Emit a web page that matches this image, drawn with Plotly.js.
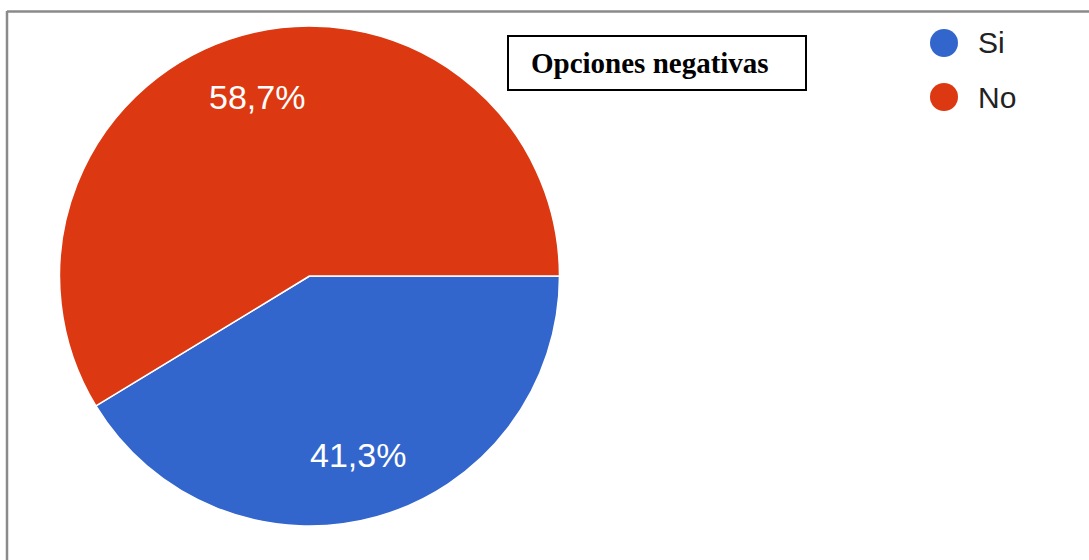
<!DOCTYPE html>
<html>
<head>
<meta charset="utf-8">
<script src="https://cdn.plot.ly/plotly-3.0.1.min.js"></script>
<style>
html,body{margin:0;padding:0;background:#fff;}
#chart{width:1089px;height:560px;}
</style>
</head>
<body>
<div id="chart"></div>
<script>
const categories = ["Si", "No"];
const values = [41.3, 58.7];
const colors = ["#3366CC", "#DC3912"];
const chartTitle = "Opciones negativas";

const W = 1089, H = 560;
const px = x => x / W;
const py = y => 1 - y / H;

const cx = 309.5, cy = 276, R = 250;
const startAngle = 90; // degrees clockwise from 12 o'clock
const labelRadius = 0.745;

const pie = {
  type: "pie",
  labels: categories,
  values: values,
  marker: { colors: colors, line: { color: "#ffffff", width: 1.5 } },
  sort: false,
  direction: "clockwise",
  rotation: startAngle,
  textinfo: "none",
  showlegend: false,
  hoverinfo: "label+percent",
  domain: { x: [px(cx - R), px(cx + R)], y: [py(cy + R), py(cy - R)] }
};

const shapes = [
  { type: "line", xref: "paper", yref: "paper", x0: px(7), x1: px(1089), y0: py(11.5), y1: py(11.5), line: { color: "#8a8a8a", width: 2.5 } },
  { type: "line", xref: "paper", yref: "paper", x0: px(7), x1: px(7), y0: py(11), y1: py(560), line: { color: "#8a8a8a", width: 2.5 } },
  { type: "rect", xref: "paper", yref: "paper", x0: px(508), x1: px(806), y0: py(36), y1: py(90), line: { color: "#000000", width: 2 }, fillcolor: "#ffffff" }
];

const annotations = [
  { xref: "paper", yref: "paper", x: px(529), y: py(63), xanchor: "left", yanchor: "middle", showarrow: false,
    text: "<b>" + chartTitle + "</b>", font: { family: "Liberation Serif, Times New Roman, serif", size: 29, color: "#000000" } }
];

// slice percentage labels, placed at each slice's mid-angle
const total = values.reduce((a, b) => a + b, 0);
let cum = 0;
values.forEach((v, i) => {
  const mid = startAngle + 360 * (cum + v / 2) / total;
  cum += v;
  const a = mid * Math.PI / 180;
  const lx = cx + labelRadius * R * Math.sin(a);
  const ly = cy - labelRadius * R * Math.cos(a);
  const pct = (100 * v / total).toFixed(1).replace(".", ",") + "%";
  annotations.push({ xref: "paper", yref: "paper", x: px(lx - 2), y: py(ly), xanchor: "center", yanchor: "middle",
    showarrow: false, text: pct, font: { family: "Liberation Sans, Arial, sans-serif", size: 34, color: "#ffffff" } });
});

const legendY = [43, 97];
categories.forEach((c, i) => {
  shapes.push({ type: "circle", xref: "paper", yref: "paper",
    x0: px(944 - 14), x1: px(944 + 14), y0: py(legendY[i] + 14), y1: py(legendY[i] - 14),
    fillcolor: colors[i], line: { width: 0 } });
  annotations.push({ xref: "paper", yref: "paper", x: px(976), y: py(legendY[i]), xanchor: "left", yanchor: "middle",
    showarrow: false, text: c, font: { family: "Liberation Sans, Arial, sans-serif", size: 30, color: "#222222" } });
});

const layout = {
  width: W, height: H,
  margin: { l: 0, r: 0, t: 0, b: 0 },
  paper_bgcolor: "#ffffff",
  separators: ",.",
  showlegend: false,
  shapes: shapes,
  annotations: annotations
};

Plotly.newPlot("chart", [pie], layout, { displayModeBar: false, staticPlot: true });
</script>
</body>
</html>
